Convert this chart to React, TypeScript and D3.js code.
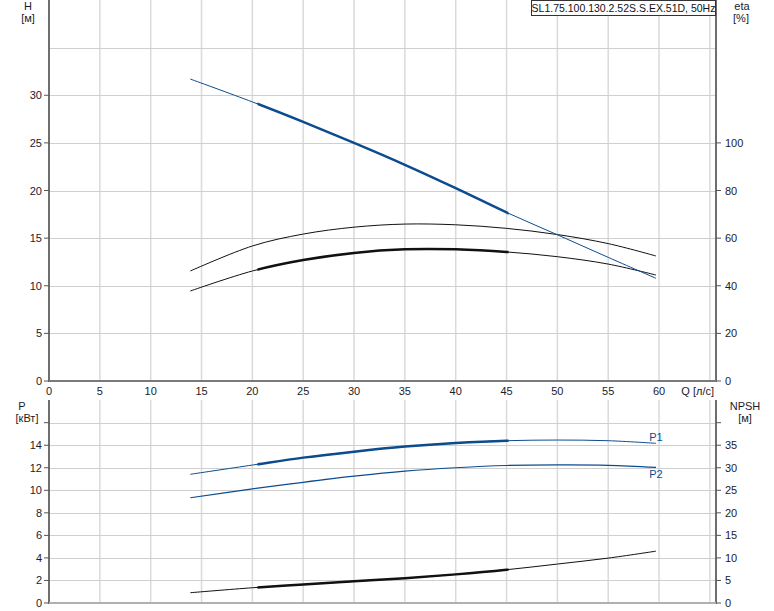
import React from "react";
import * as d3 from "d3";

// ---------- data ----------
const qPoints = [13.9, 20, 25, 30, 35, 40, 45, 50, 55, 59.7];
const headH = [31.7, 29.3, 27.2, 25.0, 22.7, 20.25, 17.7, 15.35, 12.98, 10.78];
const etaUpper = [46.2, 56.7, 61.7, 64.6, 65.9, 65.6, 64.1, 61.5, 57.7, 52.5];
const etaLower = [37.8, 46.2, 50.8, 53.8, 55.3, 55.3, 54.2, 52.2, 49.1, 44.5];
const powerP1 = [11.42, 12.24, 12.9, 13.43, 13.88, 14.2, 14.4, 14.46, 14.4, 14.17];
const powerP2 = [9.34, 10.12, 10.71, 11.25, 11.7, 12.0, 12.2, 12.25, 12.22, 12.04];
const npsh = [2.28, 3.38, 4.1, 4.8, 5.5, 6.35, 7.38, 8.64, 9.96, 11.5];
const dutyRange = [20.5, 45.2];

const qTicks = [0, 5, 10, 15, 20, 25, 30, 35, 40, 45, 50, 55, 60];
const qGrid = [5, 10, 15, 20, 25, 30, 35, 40, 45, 50, 55, 60, 65];
const hTicks = [0, 5, 10, 15, 20, 25, 30];
const hGrid = [5, 10, 15, 20, 25, 30, 35];
const etaTicks = [0, 20, 40, 60, 80, 100];
const pTicks = [0, 2, 4, 6, 8, 10, 12, 14];
const pGrid = [2, 4, 6, 8, 10, 12, 14, 16];
const pTickMarks = [0, 2, 4, 6, 8, 10, 12, 14, 16];
const npshTicks = [0, 5, 10, 15, 20, 25, 30, 35];

const title = "SL1.75.100.130.2.52S.S.EX.51D, 50Hz";

// ---------- layout ----------
const W = 774;
const H = 611;
const L = 49;
const R = 716;
const topY0 = 0;
const topY1 = 381;
const botY0 = 400;
const botY1 = 603;

const BLUE = "#0c4c8e";
const BLACK = "#111111";
const FONT = "'Liberation Sans', Arial, sans-serif";
const TXT = "#1b1b2b";

export default function App() {
  const x = d3.scaleLinear().domain([0, 65.6]).range([L, R]);
  const yH = d3.scaleLinear().domain([0, 40]).range([topY1, topY0]);
  const yEta = d3.scaleLinear().domain([0, 160]).range([topY1, topY0]);
  const yP = d3.scaleLinear().domain([0, 18]).range([botY1, botY1 - 18 * 11.27]);
  const yN = d3.scaleLinear().domain([0, 45]).range([botY1, botY1 - 18 * 11.27]);

  const mk = (ys: number[], sc: d3.ScaleLinear<number, number>) =>
    d3
      .line<number>()
      .x((_, i) => x(qPoints[i]))
      .y((v) => sc(v))
      .curve(d3.curveCatmullRom.alpha(0.5))(ys) as string;

  const dH = mk(headH, yH);
  const dEtaU = mk(etaUpper, yEta);
  const dEtaL = mk(etaLower, yEta);
  const dP1 = mk(powerP1, yP);
  const dP2 = mk(powerP2, yP);
  const dN = mk(npsh, yN);

  const cx0 = x(dutyRange[0]);
  const cx1 = x(dutyRange[1]);

  return (
    <svg
      width={W}
      height={H}
      style={{ position: "absolute", left: 0, top: 0, display: "block", background: "#fff" }}
      fontFamily={FONT}
    >
      <defs>
        <clipPath id="duty">
          <rect x={cx0} y={0} width={cx1 - cx0} height={H} />
        </clipPath>
      </defs>

      {/* ---------- top panel grid ---------- */}
      {qGrid.map((q) => (
        <line key={"tv" + q} x1={x(q)} x2={x(q)} y1={topY0} y2={topY1} stroke="#dadada" strokeWidth={1.5} />
      ))}
      {hGrid.map((h) => (
        <line key={"th" + h} x1={L} x2={R} y1={Math.round(yH(h)) + 0.5} y2={Math.round(yH(h)) + 0.5} stroke="#cfcfcf" strokeWidth={1} />
      ))}

      {/* ---------- bottom panel grid ---------- */}
      {qGrid.map((q) => (
        <line key={"bv" + q} x1={x(q)} x2={x(q)} y1={botY0} y2={botY1} stroke="#dadada" strokeWidth={1.5} />
      ))}
      {pGrid.map((p) => (
        <line key={"bh" + p} x1={L} x2={R} y1={Math.round(yP(p)) + 0.5} y2={Math.round(yP(p)) + 0.5} stroke="#cfcfcf" strokeWidth={1} />
      ))}

      {/* ---------- axes lines ---------- */}
      <line x1={L} x2={L} y1={topY0} y2={topY1 + 1} stroke="#6e6e6e" strokeWidth={2} />
      <line x1={R} x2={R} y1={topY0} y2={topY1 + 1} stroke="#6e6e6e" strokeWidth={2} />
      <line x1={L} x2={R} y1={topY1} y2={topY1} stroke="#7a7a7a" strokeWidth={2} />
      <line x1={L} x2={L} y1={botY0} y2={botY1 + 1} stroke="#6e6e6e" strokeWidth={2} />
      <line x1={R} x2={R} y1={botY0} y2={botY1 + 1} stroke="#6e6e6e" strokeWidth={2} />
      <line x1={L} x2={R} y1={botY1} y2={botY1} stroke="#b0b0b0" strokeWidth={2} />

      {/* ---------- ticks & labels: top ---------- */}
      {hTicks.map((h) => (
        <g key={"hl" + h}>
          <line x1={L - 5} x2={L} y1={yH(h)} y2={yH(h)} stroke="#555" strokeWidth={1} />
          <text x={L - 7} y={yH(h) + 4} fontSize={11} textAnchor="end" fill={TXT}>
            {h}
          </text>
        </g>
      ))}
      {etaTicks.map((e) => (
        <g key={"el" + e}>
          <line x1={R} x2={R + 5} y1={yEta(e)} y2={yEta(e)} stroke="#555" strokeWidth={1} />
          <text x={R + 9} y={yEta(e) + 4} fontSize={11} textAnchor="start" fill={TXT}>
            {e}
          </text>
        </g>
      ))}
      {qTicks.map((q) => (
        <text key={"ql" + q} x={x(q)} y={395} fontSize={11} textAnchor="middle" fill={TXT}>
          {q}
        </text>
      ))}
      <text x={714} y={395} fontSize={11} textAnchor="end" fill={TXT}>
        Q [л/с]
      </text>

      <text x={28} y={10} fontSize={11} textAnchor="middle" fill={TXT}>H</text>
      <text x={28} y={22} fontSize={11} textAnchor="middle" fill={TXT}>[м]</text>
      <text x={742} y={10} fontSize={11} textAnchor="middle" fill={TXT}>eta</text>
      <text x={741} y={22} fontSize={11} textAnchor="middle" fill={TXT}>[%]</text>

      {/* ---------- ticks & labels: bottom ---------- */}
      {pTickMarks.map((p) => (
        <line key={"pt" + p} x1={L - 5} x2={L} y1={yP(p)} y2={yP(p)} stroke="#555" strokeWidth={1} />
      ))}
      {pTicks.map((p) => (
        <text key={"pl" + p} x={L - 7} y={yP(p) + 4} fontSize={11} textAnchor="end" fill={TXT}>
          {p}
        </text>
      ))}
      {pTickMarks.map((p) => (
        <line key={"nt" + p} x1={R} x2={R + 5} y1={yP(p)} y2={yP(p)} stroke="#555" strokeWidth={1} />
      ))}
      {npshTicks.map((n) => (
        <text key={"nl" + n} x={R + 9} y={yN(n) + 4} fontSize={11} textAnchor="start" fill={TXT}>
          {n}
        </text>
      ))}
      <text x={22} y={410} fontSize={11} textAnchor="middle" fill={TXT}>P</text>
      <text x={27} y={422} fontSize={11} textAnchor="middle" fill={TXT}>[кВт]</text>
      <text x={745} y={410} fontSize={11} textAnchor="middle" fill={TXT}>NPSH</text>
      <text x={745} y={422} fontSize={11} textAnchor="middle" fill={TXT}>[м]</text>

      {/* ---------- curves: top ---------- */}
      <path d={dEtaU} fill="none" stroke={BLACK} strokeWidth={1} />
      <path d={dEtaL} fill="none" stroke={BLACK} strokeWidth={1} />
      <path d={dEtaL} fill="none" stroke={BLACK} strokeWidth={2.5} clipPath="url(#duty)" />
      <path d={dH} fill="none" stroke={BLUE} strokeWidth={1} />
      <path d={dH} fill="none" stroke={BLUE} strokeWidth={2.5} clipPath="url(#duty)" />

      {/* ---------- curves: bottom ---------- */}
      <path d={dP1} fill="none" stroke={BLUE} strokeWidth={1} />
      <path d={dP1} fill="none" stroke={BLUE} strokeWidth={2.5} clipPath="url(#duty)" />
      <path d={dP2} fill="none" stroke={BLUE} strokeWidth={1.2} />
      <path d={dN} fill="none" stroke={BLACK} strokeWidth={1} />
      <path d={dN} fill="none" stroke={BLACK} strokeWidth={2.5} clipPath="url(#duty)" />

      <text x={656} y={441} fontSize={11} textAnchor="middle" fill={BLUE}>P1</text>
      <text x={656} y={478} fontSize={11} textAnchor="middle" fill={BLUE}>P2</text>

      {/* ---------- title box ---------- */}
      <rect x={531.5} y={0.5} width={184} height={15} fill="#fff" stroke="#333" strokeWidth={1} />
      <text x={623.5} y={12} fontSize={10.5} textAnchor="middle" fill="#111">
        {title}
      </text>
    </svg>
  );
}
